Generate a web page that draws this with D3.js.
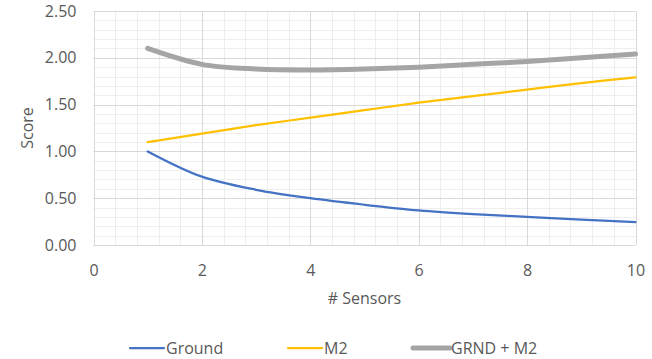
<!DOCTYPE html>
<html>
<head>
<meta charset="utf-8">
<script src="https://cdn.jsdelivr.net/npm/d3@7"></script>
<style>
  body { margin: 0; background: #fff; }
  svg { display: block; font-family: "Open Sans", sans-serif; }
</style>
</head>
<body>
<svg id="chart"></svg>
<script>
// values
var sensors = [1, 2, 3, 4, 5, 6, 7, 8, 9, 10];
var ground = [1.00, 0.73, 0.59, 0.50, 0.43, 0.37, 0.33, 0.30, 0.27, 0.245];
var m2 = [1.10, 1.19, 1.28, 1.36, 1.44, 1.52, 1.59, 1.66, 1.73, 1.79];
var grndM2 = [2.10, 1.93, 1.88, 1.87, 1.88, 1.90, 1.93, 1.96, 2.00, 2.04];
var xTicks = [0, 2, 4, 6, 8, 10];
var yTicks = [0, 0.5, 1, 1.5, 2, 2.5];

var seriesNames = ["Ground", "M2", "GRND + M2"];
var seriesColors = ["#4472C4", "#FFC000", "#A5A5A5"];
var seriesWidths = [2.25, 2.25, 5];

var width = 652, height = 359;
var margin = {top: 11, right: 16.5, bottom: 114, left: 93.5};

var svg = d3.select("#chart")
    .attr("width", width)
    .attr("height", height);

var xScale = d3.scaleLinear()
    .domain([0, 10])
    .range([margin.left, width - margin.right]);

var yScale = d3.scaleLinear()
    .domain([0, 2.5])
    .range([height - margin.bottom, margin.top]);

// minor gridlines
var grid = svg.append("g");
grid.selectAll(".minorY")
    .data(d3.range(0, 26).map(function(i){ return i / 10; }))
    .enter().append("line")
    .attr("x1", xScale(0)).attr("x2", xScale(10))
    .attr("y1", function(d){ return Math.round(yScale(d)) + 0.5; })
    .attr("y2", function(d){ return Math.round(yScale(d)) + 0.5; })
    .attr("stroke", "#eeeeee");
grid.selectAll(".minorX")
    .data(d3.range(0, 26).map(function(i){ return i * 0.4; }))
    .enter().append("line")
    .attr("y1", yScale(0)).attr("y2", yScale(2.5))
    .attr("x1", function(d){ return Math.round(xScale(d)) + 0.5; })
    .attr("x2", function(d){ return Math.round(xScale(d)) + 0.5; })
    .attr("stroke", "#eeeeee");

// major gridlines
grid.selectAll(".majorY")
    .data(yTicks)
    .enter().append("line")
    .attr("x1", xScale(0)).attr("x2", xScale(10))
    .attr("y1", function(d){ return Math.round(yScale(d)) + 0.5; })
    .attr("y2", function(d){ return Math.round(yScale(d)) + 0.5; })
    .attr("stroke", "#d9d9d9");
grid.selectAll(".majorX")
    .data(xTicks)
    .enter().append("line")
    .attr("y1", yScale(0)).attr("y2", yScale(2.5))
    .attr("x1", function(d){ return Math.round(xScale(d)) + 0.5; })
    .attr("x2", function(d){ return Math.round(xScale(d)) + 0.5; })
    .attr("stroke", "#d9d9d9");

// Axis
var yAxis = d3.axisLeft(yScale)
    .tickValues(yTicks)
    .tickFormat(d3.format(".2f"))
    .tickSize(0)
    .tickPadding(17);
var gy = svg.append("g")
    .attr("transform", "translate(" + margin.left + ",0)")
    .call(yAxis);
gy.select(".domain").remove();
gy.selectAll("text")
    .attr("fill", "#595959")
    .style("font-size", "16px")
    .style("font-family", "Open Sans, sans-serif");

var xAxis = d3.axisBottom(xScale)
    .tickValues(xTicks)
    .tickSize(0)
    .tickPadding(20);
var gx = svg.append("g")
    .attr("transform", "translate(0," + yScale(0) + ")")
    .call(xAxis);
gx.select(".domain").remove();
gx.selectAll("text")
    .attr("fill", "#595959")
    .style("font-size", "16px")
    .style("font-family", "Open Sans, sans-serif");

svg.append("text")
    .attr("x", (xScale(0) + xScale(10)) / 2)
    .attr("y", 304)
    .attr("text-anchor", "middle")
    .attr("fill", "#595959")
    .style("font-size", "16px")
    .text("# Sensors");

svg.append("text")
    .attr("transform", "translate(33," + (yScale(1.25)) + ") rotate(-90)")
    .attr("text-anchor", "middle")
    .attr("fill", "#595959")
    .style("font-size", "16px")
    .text("Score");

// lines
var allSeries = [ground, m2, grndM2];
var line = d3.line()
    .x(function(d, i){ return xScale(sensors[i]); })
    .y(function(d){ return yScale(d); })
    .curve(d3.curveCatmullRom.alpha(0.5));

svg.selectAll(".series")
    .data(allSeries)
    .enter().append("path")
    .attr("class", "series")
    .attr("fill", "none")
    .attr("stroke", function(d, i){ return seriesColors[i]; })
    .attr("stroke-width", function(d, i){ return seriesWidths[i]; })
    .attr("stroke-linecap", "round")
    .attr("d", line);

// legend
var legendX = [130, 288, 413];
var legend = svg.selectAll(".legend")
    .data(seriesNames)
    .enter().append("g")
    .attr("class", "legend")
    .attr("transform", function(d, i){ return "translate(" + legendX[i] + ",348)"; });
legend.append("line")
    .attr("x1", 0).attr("x2", function(d, i){ return i == 2 ? 37 : 34; })
    .attr("y1", 0).attr("y2", 0)
    .attr("stroke", function(d, i){ return seriesColors[i]; })
    .attr("stroke-width", function(d, i){ return seriesWidths[i]; })
    .attr("stroke-linecap", "round");
legend.append("text")
    .attr("x", function(d, i){ return i == 2 ? 38 : 36; })
    .attr("y", 0)
    .attr("dy", "0.35em")
    .attr("fill", "#595959")
    .style("font-size", "16px")
    .text(function(d){ return d; });
</script>
</body>
</html>
